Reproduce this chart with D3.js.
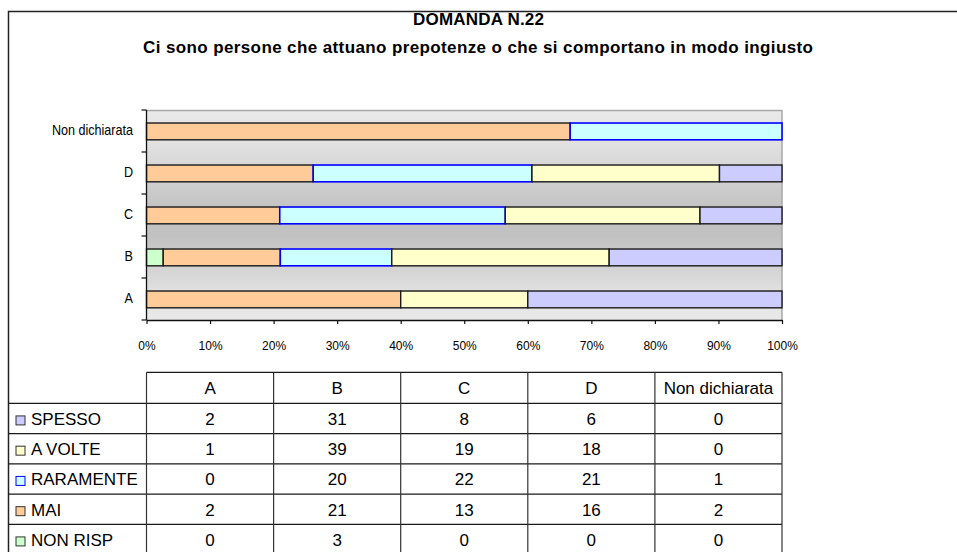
<!DOCTYPE html>
<html>
<head>
<meta charset="utf-8">
<script src="https://cdn.jsdelivr.net/npm/d3@7"></script>
<style>
  body { margin: 0; background: #fff; }
  svg { display: block; font-family: "Liberation Sans", Arial, Helvetica, sans-serif; }
</style>
</head>
<body>
<svg id="chart" width="957" height="552"></svg>
<script>
// ---- data ----
const categories = ["A", "B", "C", "D", "Non dichiarata"];
const seriesNames = ["SPESSO", "A VOLTE", "RARAMENTE", "MAI", "NON RISP"];
const spesso    = [2, 31, 8, 6, 0];
const aVolte    = [1, 39, 19, 18, 0];
const raramente = [0, 20, 22, 21, 1];
const mai       = [2, 21, 13, 16, 2];
const nonRisp   = [0, 3, 0, 0, 0];
const xTickValues = [0, 0.1, 0.2, 0.3, 0.4, 0.5, 0.6, 0.7, 0.8, 0.9, 1];
const titleText = "DOMANDA N.22";
const subtitleText = "Ci sono persone che attuano prepotenze o che si comportano in modo ingiusto";

// ---- styling ----
const fills   = { "SPESSO": "#ccccff", "A VOLTE": "#ffffcc", "RARAMENTE": "#ccffff", "MAI": "#ffcc99", "NON RISP": "#ccffcc" };
const strokes = { "SPESSO": "#1a1a1a", "A VOLTE": "#1a1a1a", "RARAMENTE": "#0000ff", "MAI": "#1a1a1a", "NON RISP": "#1a1a1a" };
const legendStroke = { "SPESSO": "#333", "A VOLTE": "#333", "RARAMENTE": "#0000ff", "MAI": "#333", "NON RISP": "#333" };

const seriesValues = [spesso, aVolte, raramente, mai, nonRisp];
const rows = categories.map((c, i) => {
  const r = { category: c };
  seriesNames.forEach((s, k) => { r[s] = seriesValues[k][i]; });
  return r;
});

// stacking runs left to right: NON RISP, MAI, RARAMENTE, A VOLTE, SPESSO
const stackOrder = seriesNames.slice().reverse();
const stacked = d3.stack().keys(stackOrder).offset(d3.stackOffsetExpand)(rows);

const svg = d3.select("#chart");

const plot = { left: 146.5, right: 782, top: 110, bottom: 320 };

const x = d3.scaleLinear().domain([0, 1]).range([plot.left, plot.right]);
const y = d3.scaleBand().domain(categories.slice().reverse()).range([plot.top, plot.bottom]).padding(0);

// ---- outer frame ----
svg.append("path")
  .attr("d", "M8.5,560 V11.5 H970")
  .attr("fill", "none").attr("stroke", "#222").attr("stroke-width", 1.5);

// ---- titles ----
svg.append("text")
  .attr("x", 478.5).attr("y", 25)
  .attr("text-anchor", "middle")
  .attr("font-size", 17).attr("font-weight", "bold")
  .attr("textLength", 131).attr("lengthAdjust", "spacing")
  .text(titleText);
svg.append("text")
  .attr("x", 478).attr("y", 52.5)
  .attr("text-anchor", "middle")
  .attr("font-size", 17).attr("font-weight", "bold")
  .attr("textLength", 670).attr("lengthAdjust", "spacing")
  .text(subtitleText);

// ---- plot background ----
const defs = svg.append("defs");
const grad = defs.append("linearGradient").attr("id", "plotBg")
  .attr("x1", 0).attr("y1", 0).attr("x2", 0).attr("y2", 1);
[[0, "#e9e9e9"], [0.12, "#e5e5e5"], [0.48, "#c2c2c2"], [0.6, "#c1c1c1"], [0.88, "#e2e2e2"], [1, "#e9e9e9"]]
  .forEach(([o, c]) => grad.append("stop").attr("offset", o).attr("stop-color", c));

svg.append("rect")
  .attr("x", plot.left).attr("y", plot.top)
  .attr("width", plot.right - plot.left).attr("height", plot.bottom - plot.top)
  .attr("fill", "url(#plotBg)");

// light border on top and right of the plot area
svg.append("path")
  .attr("d", `M${plot.left},${plot.top + 0.5} H${plot.right} V${plot.bottom}`)
  .attr("fill", "none").attr("stroke", "#a8a8a8").attr("stroke-width", 1.5);

// ---- bars ----
const barH = y.bandwidth() * 0.4;
const barOff = y.bandwidth() * 0.31;

svg.append("g").selectAll("g")
  .data(stacked)
  .join("g")
  .attr("fill", d => fills[d.key])
  .attr("stroke", d => strokes[d.key])
  .attr("stroke-width", d => d.key === "RARAMENTE" ? 1.6 : 1.4)
  .selectAll("rect")
  .data(d => d.filter(p => p[1] - p[0] > 0))
  .join("rect")
  .attr("x", p => x(p[0]))
  .attr("width", p => x(p[1]) - x(p[0]))
  .attr("y", p => y(p.data.category) + barOff)
  .attr("height", barH);

// ---- category axis (ticks at band edges) ----
const yAxis = svg.append("g");
yAxis.append("line")
  .attr("x1", plot.left).attr("x2", plot.left)
  .attr("y1", plot.top).attr("y2", plot.bottom)
  .attr("stroke", "#111").attr("stroke-width", 1.3);
const edges = y.domain().map(c => y(c)).concat([y.range()[1]]);
yAxis.selectAll("line.tick")
  .data(edges)
  .join("line").attr("class", "tick")
  .attr("x1", plot.left - 5).attr("x2", plot.left)
  .attr("y1", d => d).attr("y2", d => d)
  .attr("stroke", "#111").attr("stroke-width", 1.2);
yAxis.selectAll("text")
  .data(y.domain())
  .join("text")
  .attr("transform", c => `translate(133,${y(c) + y.bandwidth() / 2 + 4}) scale(0.9,1)`)
  .attr("text-anchor", "end")
  .attr("font-size", 14)
  .attr("fill", "#000")
  .text(c => c);

// ---- value axis ----
const xAxis = svg.append("g")
  .attr("transform", `translate(0,${plot.bottom})`)
  .call(d3.axisBottom(x).tickValues(xTickValues).tickFormat(d3.format(".0%")).tickSize(4).tickSizeOuter(0));
xAxis.select(".domain").attr("stroke", "#111").attr("stroke-width", 1.3);
xAxis.selectAll(".tick line").attr("stroke", "#111").attr("stroke-width", 1.2);
xAxis.selectAll(".tick text")
  .attr("y", 30).attr("dy", 0)
  .attr("font-size", 12)
  .attr("font-family", "Liberation Sans, Arial, sans-serif")
  .attr("fill", "#000");

// ---- data table ----
const col = d3.scaleBand().domain(categories).range([plot.left, plot.right]);
const headerTop = 372.3, headerBottom = 403.3, rowH = 30.25;
const rowTop = i => headerBottom + i * rowH;
const tableBottom = rowTop(seriesNames.length);
const table = svg.append("g").attr("stroke", "#1a1a1a").attr("stroke-width", 1.2);

// header top border
table.append("line")
  .attr("x1", plot.left).attr("x2", plot.right)
  .attr("y1", headerTop).attr("y2", headerTop);
// horizontal row rules
table.selectAll("line.row")
  .data(d3.range(seriesNames.length + 1))
  .join("line").attr("class", "row")
  .attr("x1", 8.5).attr("x2", plot.right)
  .attr("y1", i => rowTop(i)).attr("y2", i => rowTop(i));
// column rules
const colEdges = categories.map(c => col(c)).concat([plot.right]);
table.selectAll("line.col")
  .data(colEdges)
  .join("line").attr("class", "col")
  .attr("x1", d => d).attr("x2", d => d)
  .attr("y1", headerTop).attr("y2", tableBottom)
  .attr("stroke", "#333");

// header labels
svg.append("g").selectAll("text")
  .data(categories)
  .join("text")
  .attr("x", c => col(c) + col.bandwidth() / 2)
  .attr("y", (headerTop + headerBottom) / 2 + 6.3)
  .attr("text-anchor", "middle")
  .attr("font-size", 17)
  .text(c => c);

// row legend keys and names
const legend = svg.append("g").selectAll("g")
  .data(seriesNames)
  .join("g")
  .attr("transform", (s, i) => `translate(0,${rowTop(i) + rowH / 2 + 6.5})`);
legend.append("rect")
  .attr("x", 16).attr("y", -9).attr("width", 9).attr("height", 9)
  .attr("fill", s => fills[s]).attr("stroke", s => legendStroke[s]).attr("stroke-width", 1);
legend.append("text")
  .attr("x", 31).attr("y", 0)
  .attr("font-size", 17)
  .text(s => s);

// cell values
seriesNames.forEach((s, i) => {
  svg.append("g").selectAll("text")
    .data(seriesValues[i].map((v, j) => ({ v, c: categories[j] })))
    .join("text")
    .attr("x", d => col(d.c) + col.bandwidth() / 2)
    .attr("y", rowTop(i) + rowH / 2 + 6.5)
    .attr("text-anchor", "middle")
    .attr("font-size", 17)
    .text(d => d.v);
});
</script>
</body>
</html>
